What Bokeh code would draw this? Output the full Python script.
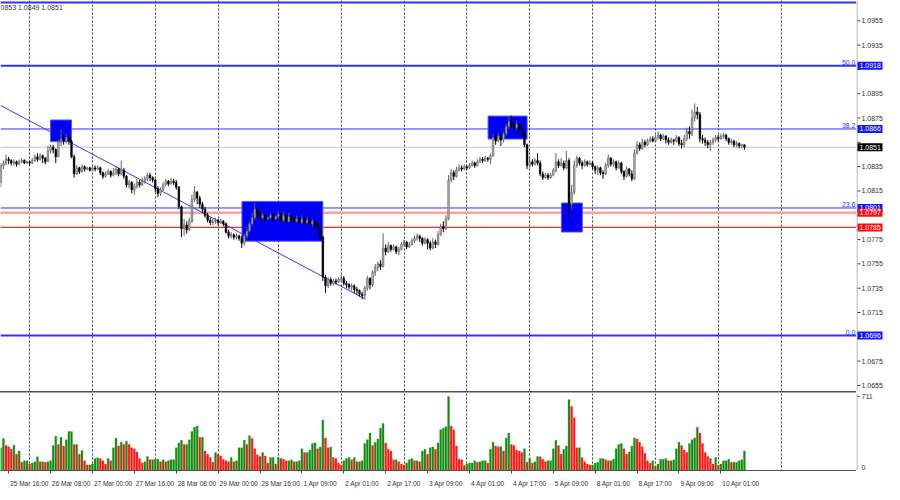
from bokeh.plotting import figure
from bokeh.layouts import column, row
from bokeh.models import Range1d, FixedTicker, Div, LinearAxis
from bokeh.core.properties import value
from bokeh.embed import file_html
from bokeh.resources import INLINE

FONT = "Liberation Sans"

# ---------------- data (EURUSD H1, 25 Mar 13:00 .. 10 Apr 10:00) ----------------
first_open = 1.0822
bar_close = [
    1.0836, 1.0838, 1.0841, 1.0840, 1.0838, 1.0839, 1.0837, 1.0839, 1.0840, 1.0838, 1.0839,
    1.0838, 1.0840, 1.0843, 1.0841, 1.0844, 1.0842, 1.0839, 1.0848, 1.0851, 1.0849, 1.0843, 1.0855,
    1.0858, 1.0856, 1.0859, 1.0856, 1.0843, 1.0829, 1.0834, 1.0831, 1.0835, 1.0833, 1.0834, 1.0832,
    1.0834, 1.0833, 1.0834, 1.0830, 1.0827, 1.0829, 1.0831, 1.0828, 1.0830, 1.0833, 1.0829, 1.0832,
    1.0827, 1.0820, 1.0822, 1.0816, 1.0819, 1.0822, 1.0820, 1.0823, 1.0825, 1.0828, 1.0826, 1.0824,
    1.0817, 1.0813, 1.0816, 1.0820, 1.0823, 1.0821, 1.0823, 1.0822, 1.0818, 1.0802, 1.0784, 1.0787,
    1.0783, 1.0790, 1.0808, 1.0814, 1.0809, 1.0804, 1.0800, 1.0795, 1.0791, 1.0789, 1.0790, 1.0791,
    1.0789, 1.0790, 1.0788, 1.0781, 1.0778, 1.0779, 1.0777, 1.0778, 1.0776, 1.0772, 1.0778, 1.0782,
    1.0788, 1.0793, 1.0800, 1.0796, 1.0793, 1.0795, 1.0792, 1.0793, 1.0795, 1.0792, 1.0794,
    1.0796, 1.0791, 1.0795, 1.0790, 1.0794, 1.0792, 1.0790, 1.0792, 1.0789, 1.0792, 1.0789, 1.0791,
    1.0788, 1.0790, 1.0787, 1.0784, 1.0777, 1.0744, 1.0737, 1.0742, 1.0739, 1.0741, 1.0740, 1.0742,
    1.0743, 1.0739, 1.0738, 1.0736, 1.0737, 1.0734, 1.0733, 1.0730, 1.0729, 1.0735, 1.0743, 1.0738,
    1.0748, 1.0752, 1.0755, 1.0753, 1.0768, 1.0765, 1.0770, 1.0767, 1.0769, 1.0765, 1.0767, 1.0771,
    1.0773, 1.0769, 1.0771, 1.0774, 1.0776, 1.0778, 1.0776, 1.0772, 1.0775, 1.0772, 1.0768, 1.0773,
    1.0771, 1.0779, 1.0786, 1.0784, 1.0792, 1.0824, 1.0830, 1.0827, 1.0832, 1.0834, 1.0833, 1.0835,
    1.0834, 1.0836, 1.0838, 1.0836, 1.0839, 1.0841, 1.0840, 1.0842, 1.0841, 1.0844, 1.0859, 1.0856,
    1.0860, 1.0857, 1.0862, 1.0868, 1.0872, 1.0870, 1.0867, 1.0870, 1.0866, 1.0862, 1.0853, 1.0836,
    1.0839, 1.0837, 1.0840, 1.0838, 1.0829, 1.0826, 1.0828, 1.0826, 1.0828, 1.0832, 1.0839, 1.0836,
    1.0838, 1.0834, 1.0840, 1.0804, 1.0814, 1.0836, 1.0842, 1.0838, 1.0836, 1.0839, 1.0837, 1.0838,
    1.0835, 1.0832, 1.0834, 1.0830, 1.0829, 1.0836, 1.0842, 1.0837, 1.0839, 1.0834, 1.0838, 1.0831,
    1.0827, 1.0833, 1.0829, 1.0825, 1.0846, 1.0853, 1.0850, 1.0855, 1.0853, 1.0856, 1.0858, 1.0856,
    1.0859, 1.0861, 1.0858, 1.0860, 1.0857, 1.0855, 1.0857, 1.0856, 1.0859, 1.0854, 1.0853, 1.0858,
    1.0864, 1.0862, 1.0875, 1.0880, 1.0878, 1.0858, 1.0857, 1.0855, 1.0853, 1.0855, 1.0857, 1.0859,
    1.0858, 1.0860, 1.0861, 1.0858, 1.0855, 1.0856, 1.0853, 1.0854, 1.0852, 1.0853, 1.0851,
]
bar_high = [
    1.0838, 1.0840, 1.0845, 1.0843, 1.0841, 1.0841, 1.0840, 1.0841, 1.0842, 1.0841, 1.0840,
    1.0840, 1.0842, 1.0845, 1.0846, 1.0846, 1.0845, 1.0843, 1.0852, 1.0853, 1.0853, 1.0850, 1.0857,
    1.0866, 1.0861, 1.0862, 1.0860, 1.0857, 1.0845, 1.0836, 1.0835, 1.0837, 1.0836, 1.0835, 1.0835,
    1.0835, 1.0836, 1.0836, 1.0835, 1.0831, 1.0831, 1.0833, 1.0832, 1.0834, 1.0835, 1.0834, 1.0840,
    1.0834, 1.0828, 1.0824, 1.0823, 1.0821, 1.0825, 1.0824, 1.0826, 1.0827, 1.0830, 1.0830, 1.0827,
    1.0825, 1.0819, 1.0818, 1.0822, 1.0825, 1.0824, 1.0826, 1.0825, 1.0824, 1.0819, 1.0803, 1.0792,
    1.0790, 1.0793, 1.0812, 1.0819, 1.0815, 1.0811, 1.0806, 1.0802, 1.0797, 1.0793, 1.0792, 1.0793,
    1.0792, 1.0792, 1.0791, 1.0789, 1.0783, 1.0781, 1.0780, 1.0780, 1.0779, 1.0778, 1.0780, 1.0785,
    1.0790, 1.0797, 1.0805, 1.0801, 1.0798, 1.0797, 1.0796, 1.0794, 1.0797, 1.0796, 1.0795,
    1.0798, 1.0797, 1.0798, 1.0796, 1.0797, 1.0796, 1.0794, 1.0795, 1.0793, 1.0795, 1.0794, 1.0793,
    1.0792, 1.0792, 1.0791, 1.0789, 1.0786, 1.0778, 1.0746, 1.0744, 1.0744, 1.0743, 1.0743, 1.0744,
    1.0746, 1.0745, 1.0741, 1.0739, 1.0739, 1.0738, 1.0736, 1.0734, 1.0732, 1.0737, 1.0745, 1.0744,
    1.0750, 1.0755, 1.0757, 1.0758, 1.0780, 1.0771, 1.0773, 1.0771, 1.0771, 1.0770, 1.0769, 1.0773,
    1.0775, 1.0774, 1.0773, 1.0776, 1.0778, 1.0780, 1.0779, 1.0777, 1.0777, 1.0776, 1.0774, 1.0776,
    1.0775, 1.0782, 1.0788, 1.0790, 1.0795, 1.0828, 1.0833, 1.0832, 1.0835, 1.0837, 1.0836, 1.0837,
    1.0836, 1.0838, 1.0840, 1.0839, 1.0841, 1.0843, 1.0843, 1.0844, 1.0843, 1.0846, 1.0862, 1.0862,
    1.0863, 1.0862, 1.0864, 1.0870, 1.0876, 1.0877, 1.0872, 1.0873, 1.0871, 1.0868, 1.0864, 1.0854,
    1.0842, 1.0841, 1.0842, 1.0846, 1.0840, 1.0831, 1.0830, 1.0830, 1.0830, 1.0834, 1.0846, 1.0841,
    1.0842, 1.0840, 1.0848, 1.0842, 1.0820, 1.0840, 1.0844, 1.0843, 1.0840, 1.0841, 1.0840, 1.0840,
    1.0839, 1.0836, 1.0836, 1.0835, 1.0832, 1.0838, 1.0845, 1.0843, 1.0841, 1.0840, 1.0840, 1.0839,
    1.0832, 1.0835, 1.0834, 1.0832, 1.0849, 1.0856, 1.0855, 1.0858, 1.0857, 1.0858, 1.0860, 1.0860,
    1.0861, 1.0864, 1.0862, 1.0862, 1.0861, 1.0859, 1.0859, 1.0858, 1.0861, 1.0860, 1.0857, 1.0861,
    1.0867, 1.0868, 1.0882, 1.0887, 1.0884, 1.0880, 1.0861, 1.0859, 1.0857, 1.0857, 1.0859, 1.0861,
    1.0861, 1.0862, 1.0863, 1.0862, 1.0859, 1.0858, 1.0857, 1.0856, 1.0855, 1.0854, 1.0853,
]
bar_low = [
    1.0818, 1.0833, 1.0836, 1.0837, 1.0836, 1.0836, 1.0835, 1.0836, 1.0838, 1.0837, 1.0837,
    1.0836, 1.0837, 1.0839, 1.0839, 1.0840, 1.0838, 1.0837, 1.0839, 1.0846, 1.0846, 1.0838, 1.0843,
    1.0852, 1.0853, 1.0854, 1.0853, 1.0842, 1.0826, 1.0828, 1.0829, 1.0830, 1.0831, 1.0832, 1.0831,
    1.0831, 1.0831, 1.0832, 1.0828, 1.0825, 1.0826, 1.0828, 1.0826, 1.0827, 1.0828, 1.0827, 1.0828,
    1.0825, 1.0818, 1.0817, 1.0813, 1.0812, 1.0817, 1.0818, 1.0819, 1.0821, 1.0823, 1.0823, 1.0822,
    1.0814, 1.0810, 1.0811, 1.0815, 1.0819, 1.0819, 1.0820, 1.0820, 1.0816, 1.0800, 1.0777, 1.0778,
    1.0780, 1.0782, 1.0789, 1.0806, 1.0804, 1.0801, 1.0797, 1.0793, 1.0789, 1.0787, 1.0787, 1.0788,
    1.0787, 1.0788, 1.0786, 1.0780, 1.0776, 1.0776, 1.0775, 1.0775, 1.0774, 1.0768, 1.0770, 1.0776,
    1.0781, 1.0786, 1.0791, 1.0793, 1.0791, 1.0792, 1.0790, 1.0791, 1.0792, 1.0790, 1.0791,
    1.0792, 1.0789, 1.0790, 1.0788, 1.0789, 1.0789, 1.0788, 1.0789, 1.0787, 1.0788, 1.0787, 1.0788,
    1.0786, 1.0786, 1.0785, 1.0782, 1.0775, 1.0741, 1.0731, 1.0735, 1.0737, 1.0737, 1.0738, 1.0739,
    1.0740, 1.0737, 1.0735, 1.0734, 1.0733, 1.0731, 1.0730, 1.0728, 1.0726, 1.0727, 1.0733, 1.0734,
    1.0736, 1.0745, 1.0749, 1.0750, 1.0752, 1.0762, 1.0764, 1.0765, 1.0766, 1.0763, 1.0762, 1.0766,
    1.0769, 1.0767, 1.0768, 1.0770, 1.0772, 1.0774, 1.0773, 1.0770, 1.0771, 1.0767, 1.0766, 1.0767,
    1.0768, 1.0770, 1.0778, 1.0781, 1.0783, 1.0791, 1.0822, 1.0824, 1.0826, 1.0831, 1.0831, 1.0832,
    1.0832, 1.0833, 1.0835, 1.0834, 1.0835, 1.0838, 1.0838, 1.0839, 1.0839, 1.0837, 1.0843, 1.0853,
    1.0855, 1.0852, 1.0855, 1.0860, 1.0866, 1.0867, 1.0864, 1.0865, 1.0863, 1.0860, 1.0851, 1.0833,
    1.0834, 1.0835, 1.0836, 1.0836, 1.0827, 1.0824, 1.0825, 1.0824, 1.0825, 1.0827, 1.0830, 1.0834,
    1.0835, 1.0832, 1.0833, 1.0792, 1.0800, 1.0812, 1.0834, 1.0836, 1.0833, 1.0835, 1.0835, 1.0836,
    1.0833, 1.0829, 1.0828, 1.0828, 1.0825, 1.0828, 1.0834, 1.0835, 1.0835, 1.0832, 1.0833, 1.0829,
    1.0824, 1.0826, 1.0827, 1.0823, 1.0824, 1.0845, 1.0848, 1.0849, 1.0851, 1.0852, 1.0855, 1.0855,
    1.0855, 1.0857, 1.0856, 1.0857, 1.0854, 1.0853, 1.0854, 1.0853, 1.0855, 1.0852, 1.0850, 1.0851,
    1.0856, 1.0858, 1.0860, 1.0872, 1.0874, 1.0855, 1.0854, 1.0852, 1.0850, 1.0848, 1.0853, 1.0855,
    1.0856, 1.0857, 1.0858, 1.0856, 1.0853, 1.0853, 1.0851, 1.0851, 1.0850, 1.0850, 1.0849,
]
volume = [
    218, 306, 240, 228, 203, 243, 156, 187, 78, 94, 94,
    62, 72, 84, 131, 84, 84, 78, 84, 94, 240, 328, 250, 318, 234, 296, 374, 374, 250, 250, 156, 193, 94, 53, 53,
    62, 115, 122, 115, 94, 62, 115, 94, 218, 312, 234, 271, 250, 281, 250, 218, 209, 178, 115, 72, 84, 134, 103, 103,
    109, 109, 84, 103, 84, 94, 103, 103, 218, 265, 290, 250, 250, 296, 374, 415, 427, 318, 318, 187, 156, 125, 78, 172,
    156, 140, 109, 94, 84, 125, 84, 94, 218, 218, 290, 250, 334, 306, 209, 150, 134, 172, 140, 72, 125, 125, 62,
    125, 115, 109, 94, 94, 103, 84, 84, 94, 209, 172, 172, 197, 259, 265, 209, 225, 484, 312, 218, 225, 125, 115, 72,
    53, 94, 115, 125, 103, 125, 84, 84, 94, 259, 296, 359, 240, 271, 303, 406, 452, 265, 203, 187, 103, 103, 84, 62,
    53, 72, 103, 115, 94, 94, 84, 187, 203, 156, 218, 225, 203, 265, 390, 406, 421, 711, 427, 390, 234, 109, 103, 47,
    62, 72, 72, 94, 78, 84, 94, 94, 72, 203, 271, 234, 228, 228, 187, 312, 359, 250, 240, 197, 187, 172, 209, 78,
    115, 72, 84, 134, 131, 109, 84, 94, 94, 209, 290, 240, 156, 203, 234, 680, 615, 506, 218, 218, 125, 84, 62, 53,
    53, 72, 78, 115, 115, 103, 94, 94, 109, 209, 250, 259, 209, 156, 178, 234, 312, 303, 271, 228, 165, 90, 72, 94,
    41, 62, 109, 109, 115, 94, 94, 103, 209, 271, 240, 197, 172, 259, 296, 312, 415, 359, 259, 172, 134, 115, 62, 125,
    53, 62, 94, 94, 109, 78, 78, 78, 94, 103, 187,
]

day_start_idx = [11, 35, 59, 83, 106, 130, 154, 178, 202, 226, 250, 274, 298]
time_tick_idx = [3, 19, 35, 51, 67, 83, 99, 115, 131, 147, 163, 179, 195, 211, 227, 243, 259, 275]
time_tick_labels = ["25 Mar 16:00", "26 Mar 08:00", "27 Mar 00:00", "27 Mar 16:00", "28 Mar 08:00",
                    "29 Mar 00:00", "29 Mar 16:00", "1 Apr 09:00", "2 Apr 01:00", "2 Apr 17:00",
                    "3 Apr 09:00", "4 Apr 01:00", "4 Apr 17:00", "5 Apr 09:00", "8 Apr 01:00",
                    "8 Apr 17:00", "9 Apr 09:00", "10 Apr 01:00"]
price_ticks = [1.0655, 1.0675, 1.0695, 1.0715, 1.0735, 1.0755, 1.0775, 1.0795, 1.0815,
               1.0835, 1.0855, 1.0875, 1.0895, 1.0915, 1.0935, 1.0955]
volume_ticks = [0, 711]

fib_names = ["0.0", "23.6", "38.2", "50.0", "61.8"]
fib_levels = [1.0696, 1.0801, 1.0866, 1.0918, 1.0970]
fib_widths = [2, 1, 1, 2, 2]
red_levels = [1.0797, 1.0785]
red_colors = ["#ff9f9f", "#ff2a2a"]
red_widths = [2.5, 1.2]

trend_x = [-0.11, 139.3]
trend_y = [1.08854, 1.07259]

rect_left = [19.0, 92.1, 186.1, 214.1]
rect_right = [27.0, 123.0, 201.0, 222.1]
rect_top = [1.08734, 1.08064, 1.08766, 1.08051]
rect_bottom = [1.08556, 1.07737, 1.08577, 1.07812]

x_view = (-0.11, 326.8)
price_view = (1.0650, 1.09717)
volume_view = (0, 739)

# ---------------- derived ----------------
n = min(len(bar_close), len(bar_high), len(bar_low), len(volume))
idx = list(range(n))
opens = [first_open] + bar_close[:n - 1]
closes = bar_close[:n]
highs = [max(h, o, c) for h, o, c in zip(bar_high, opens, closes)]
lows = [min(l, o, c) for l, o, c in zip(bar_low, opens, closes)]
bull = [c >= o for o, c in zip(opens, closes)]
body_top = [max(o, c) for o, c in zip(opens, closes)]
body_bot = [min(o, c) for o, c in zip(opens, closes)]
body_fill = ["#b4b4b4" if b else "#000000" for b in bull]
body_line = ["#606060" if b else "#000000" for b in bull]
wick_col = ["#606060" if b else "#000000" for b in bull]
vols = volume[:n]
vol_col = ["#118c11" if (i == 0 or vols[i] >= vols[i - 1]) else "#ff1414" for i in range(n)]
bid = closes[-1]
header = f"{highs[-1]:.4f}"[2:] + f" {lows[-1]:.4f} {closes[-1]:.4f}"

FW = 856          # chart frame width
AXW = 28          # price-scale strip width
FH_MAIN = 391
FH_VOL = 77
px_per_bar = FW / (x_view[1] - x_view[0])

CHAR_EM = {" ": 0.278, ":": 0.278, "M": 0.833, "A": 0.667, "a": 0.556, "r": 0.333, "p": 0.556}
TIME_FONT_PX = 6.5


def label_width_px(s):
    return sum(CHAR_EM.get(ch, 0.556) for ch in s) * TIME_FONT_PX


xr = Range1d(*x_view)
yr_price = Range1d(*price_view)
yr_vol = Range1d(*volume_view)


def bare(fig):
    fig.grid.visible = False
    fig.outline_line_color = None
    fig.background_fill_color = "white"
    fig.border_fill_color = "white"


# ---------------- main price panel ----------------
p = figure(frame_width=FW, frame_height=FH_MAIN, x_range=xr, y_range=yr_price,
           x_axis_location=None, y_axis_location=None, output_backend="svg",
           toolbar_location=None, min_border=0)
bare(p)

p.vspan(x=day_start_idx, line_color="#3a3a3a", line_dash="2 2", line_width=1)


def hlines(fig, levels, colors, widths):
    k = len(levels)
    fig.segment(x0=[x_view[0]] * k, x1=[x_view[1]] * k, y0=levels, y1=levels,
                line_color=colors, line_width=widths)


hlines(p, [bid], ["#c4c4c4"], [1])
hlines(p, red_levels, red_colors, red_widths)
hlines(p, fib_levels, ["#3030ff"] * len(fib_levels), fib_widths)
p.line(trend_x, trend_y, line_color="#3535ff", line_width=1)
p.quad(left=rect_left, right=rect_right, top=rect_top, bottom=rect_bottom,
       fill_color="#0000f5", line_color="#5555ff", line_width=1)

p.segment(x0=idx, y0=lows, x1=idx, y1=highs, line_color=wick_col, line_width=1)
p.vbar(x=idx, width=0.62, top=body_top, bottom=body_bot, fill_color=body_fill,
       line_color=body_line, line_width=0.6)

vis = [(nm, lv) for nm, lv in zip(fib_names, fib_levels) if lv < price_view[1] - 0.0005]
p.text(x=[x_view[1]] * len(vis), y=[lv for _, lv in vis], text=[nm for nm, _ in vis],
       text_align="right", text_baseline="bottom", x_offset=-1, y_offset=-1,
       text_color="#3030ff", text_font=value(FONT), text_font_size="7px")
p.text(x=[x_view[0]], y=[price_view[1]], text=[header], text_align="left",
       text_baseline="top", y_offset=3, text_color="#333333",
       text_font=value(FONT), text_font_size="7px")

# ---------------- price scale strip (ticks, labels, price boxes) ----------------
pa = figure(frame_width=AXW, frame_height=FH_MAIN, x_range=Range1d(0, AXW), y_range=yr_price,
            x_axis_location=None, y_axis_location=None, output_backend="svg",
            toolbar_location=None, min_border=0)
bare(pa)
pa.segment(x0=[0.5], x1=[0.5], y0=[price_view[0]], y1=[price_view[1]],
           line_color="#a0a0a0", line_width=1)
nt = len(price_ticks)
pa.segment(x0=[1] * nt, x1=[4] * nt, y0=price_ticks, y1=price_ticks,
           line_color="#404040", line_width=1)

boxes = [(lv, "#1414ff") for lv in fib_levels if lv < price_view[1] - 0.0005]
boxes += [(lv, "#ff0c0c") for lv in red_levels]
boxes += [(bid, "#000000")]
shown_ticks = [t for t in price_ticks if all(abs(t - b) > 0.00045 for b, _ in boxes)]
pa.text(x=[5] * len(shown_ticks), y=shown_ticks, text=[f"{t:.4f}" for t in shown_ticks],
        text_align="left", text_baseline="middle", text_color="#303030",
        text_font=value(FONT), text_font_size="7px")
pa.rect(x=[13.5] * len(boxes), y=[b for b, _ in boxes], width=25, height=8,
        height_units="screen", fill_color=[c for _, c in boxes], line_color=None)
pa.text(x=[3] * len(boxes), y=[b for b, _ in boxes], text=[f"{b:.4f}" for b, _ in boxes],
        text_align="left", text_baseline="middle", text_color="white",
        text_font=value(FONT), text_font_size="7px")

sep = Div(text="", width=FW, height=2, margin=0,
          styles={"background-color": "#a8a8a8", "border-top": "1px solid #505050"})

# ---------------- volume panel ----------------
pv = figure(frame_width=FW, frame_height=FH_VOL, x_range=xr, y_range=yr_vol,
            y_axis_location=None, output_backend="svg", toolbar_location=None, min_border=0)
bare(pv)
pv.vspan(x=day_start_idx, line_color="#3a3a3a", line_dash="2 2", line_width=1)
pv.vbar(x=idx, width=0.72, top=vols, bottom=0, fill_color=vol_col, line_color=vol_col,
        line_width=0.3)

xa = pv.xaxis[0]
xa.ticker = FixedTicker(ticks=time_tick_idx)
xa.major_label_overrides = {t: "" for t in time_tick_idx}
xa.axis_line_color = "#505050"
xa.major_tick_line_color = "#404040"
xa.major_tick_out = 3
xa.major_tick_in = 0
xa.minor_tick_line_color = None
xa.major_label_text_font_size = "1px"
xa.major_label_standoff = 0

lab_pos = [round(t + (label_width_px(s) / 2 + 1.5) / px_per_bar, 3)
           for t, s in zip(time_tick_idx, time_tick_labels)]
xa2 = LinearAxis(ticker=FixedTicker(ticks=lab_pos),
                 major_label_overrides={t: s for t, s in zip(lab_pos, time_tick_labels)},
                 axis_line_color=None, major_tick_line_color=None, minor_tick_line_color=None,
                 major_label_text_font=FONT, major_label_text_font_size=f"{TIME_FONT_PX}px",
                 major_label_text_color="#303030", major_label_standoff=0)
pv.add_layout(xa2, "below")

# volume scale strip
pva = figure(frame_width=AXW, frame_height=FH_VOL, x_range=Range1d(0, AXW), y_range=yr_vol,
             x_axis_location=None, y_axis_location=None, output_backend="svg",
             toolbar_location=None, min_border=0)
bare(pva)
pva.segment(x0=[0.5], x1=[0.5], y0=[volume_view[0]], y1=[volume_view[1]],
            line_color="#a0a0a0", line_width=1)
nv = len(volume_ticks)
pva.segment(x0=[1] * nv, x1=[3] * nv, y0=volume_ticks, y1=volume_ticks,
            line_color="#404040", line_width=1)
low_ticks = [t for t in volume_ticks if t <= volume_view[0]]
high_ticks = [t for t in volume_ticks if t > volume_view[0]]
pva.text(x=[5] * len(high_ticks), y=high_ticks, text=[str(t) for t in high_ticks],
         text_align="left", text_baseline="middle",
         text_color="#303030", text_font=value(FONT), text_font_size="7px")
pva.text(x=[5] * len(low_ticks), y=low_ticks, text=[str(t) for t in low_ticks],
         text_align="left", text_baseline="bottom", y_offset=-1,
         text_color="#303030", text_font=value(FONT), text_font_size="7px")

layout = column(row(p, pa, spacing=0), sep, row(pv, pva, spacing=0), spacing=0)
open("out.html", "w").write(file_html(layout, INLINE, "EURUSD H1"))
